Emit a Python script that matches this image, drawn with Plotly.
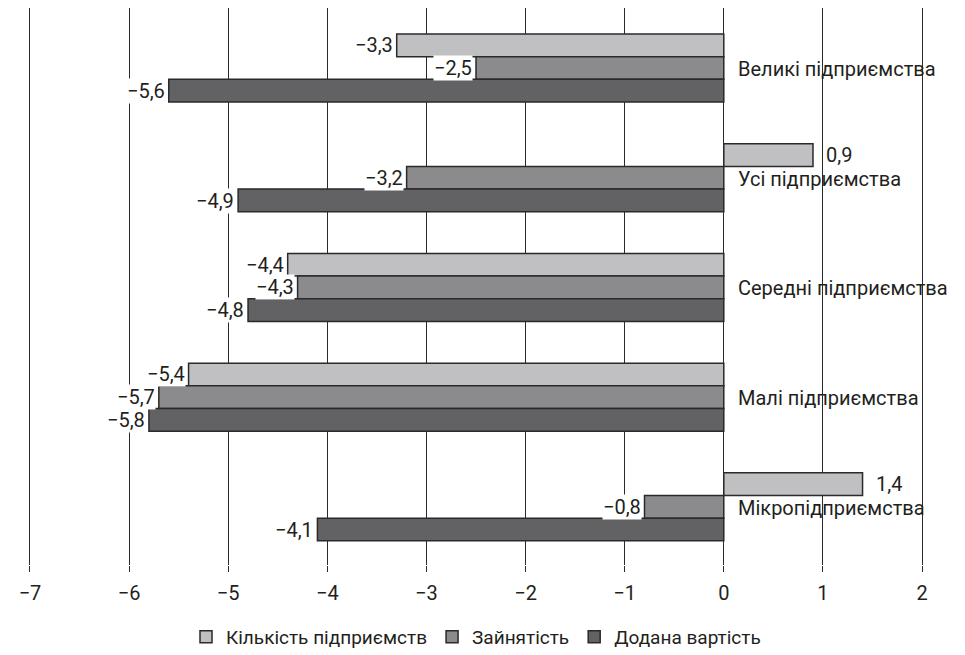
import plotly.graph_objects as go

categories = ["Великі підприємства", "Усі підприємства", "Середні підприємства",
              "Малі підприємства", "Мікропідприємства"]
series_names = ["Кількість підприємств", "Зайнятість", "Додана вартість"]
kilkist = [-3.3, 0.9, -4.4, -5.4, 1.4]
zainiatist = [-2.5, -3.2, -4.3, -5.7, -0.8]
dodana = [-5.6, -4.9, -4.8, -5.8, -4.1]
tick_vals = [-7, -6, -5, -4, -3, -2, -1, 0, 1, 2]

colors = ["#c0c0c2", "#8b8b8d", "#626264"]
series = [kilkist, zainiatist, dodana]
FONT = "Roboto, Liberation Sans Narrow, DejaVu Sans Condensed, sans-serif"


def fmt(v):
    return f"{v:.1f}".replace(".", ",").replace("-", "\u2212")


fig = go.Figure()
for name, vals, c in zip(series_names, series, colors):
    fig.add_trace(go.Bar(
        y=categories, x=vals, name=name, orientation="h",
        marker=dict(color=c, line=dict(color="#2a2a2a", width=1.5)),
    ))

annotations = []
bar_px = 22.8
for i, vals in enumerate(series):
    shift = (1 - i) * bar_px
    for cat, v in zip(categories, vals):
        annotations.append(dict(
            x=v, y=cat, text=fmt(v), showarrow=False,
            xanchor="right" if v < 0 else "left",
            xshift=-3 if v < 0 else 12, yshift=shift,
            bgcolor="white" if v < 0 else "rgba(0,0,0,0)",
            borderpad=0,
            font=dict(size=20, color="#231f20", family=FONT),
        ))
for cat in categories:
    annotations.append(dict(
        x=0, y=cat, text=cat, showarrow=False, xanchor="left",
        xshift=12, yshift=-1,
        font=dict(size=20, color="#231f20", family=FONT),
    ))

fig.update_layout(
    width=957, height=647,
    barmode="group", bargap=0.38, bargroupgap=0,
    plot_bgcolor="white", paper_bgcolor="white",
    margin=dict(l=20, r=41, t=0, b=90, autoexpand=False),
    font=dict(family=FONT, size=20, color="#231f20"),
    showlegend=True,
    legend=dict(orientation="h", x=0.5, xanchor="center", y=-0.095, yanchor="top",
                font=dict(size=19, family=FONT), traceorder="normal"),
    annotations=annotations,
    xaxis=dict(range=[-7.02, 2.02], tickvals=tick_vals,
               ticktext=[fmt(v).replace(",0", "") for v in tick_vals],
               showgrid=True, gridcolor="#2a2a2a", gridwidth=1,
               zeroline=True, zerolinecolor="#2a2a2a", zerolinewidth=1,
               ticks="outside", ticklen=6, tickcolor="#2a2a2a",
               ticklabelstandoff=4,
               showline=False, tickfont=dict(size=20), fixedrange=True),
    yaxis=dict(categoryorder="array", categoryarray=categories,
               range=[4.53, -0.547], showticklabels=False, showgrid=False,
               zeroline=False, showline=False, ticks=""),
)

fig.write_html("out.html")
